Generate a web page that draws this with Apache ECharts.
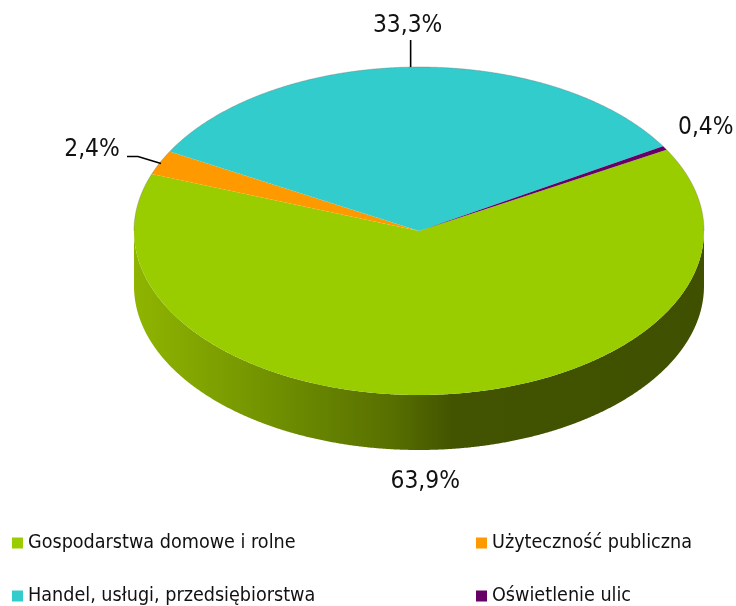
<!DOCTYPE html>
<html><head><meta charset="utf-8">
<style>html,body{margin:0;padding:0;background:#fff}#c{width:736px;height:606px}</style>
<script src="https://cdn.jsdelivr.net/npm/echarts@6/dist/echarts.min.js"></script>
</head><body><div id="c"></div>
<script>
const categories = ['Gospodarstwa domowe i rolne','Użyteczność publiczna','Handel, usługi, przedsiębiorstwa','Oświetlenie ulic'];
const shares = [63.9, 2.4, 33.3, 0.4];
const colors = ['#9ACD00','#FF9900','#33CCCC','#660066'];
const legendPos = [[12,533],[476,533],[12,586],[476,586]];
// label offset from the slice's rim midpoint, and leader line points relative to the same point
const labelOffset = [[-17,87],[-68,-13],[-6,-41],[41,-20]];
const leaders = [null,[[1,1],[-22,-6],[-33,-6]],[[-3,0],[-3,-27]],null];

const cx=419, cy=231, rx=285, ry=164, depth=55, startDeg=29.7;
const font='"DejaVu Sans Condensed","DejaVu Sans",sans-serif';
const total=shares.reduce((a,b)=>a+b,0);
function pt(deg,dy){const r=deg*Math.PI/180;return [cx+rx*Math.cos(r),cy-ry*Math.sin(r)+(dy||0)];}
function range(i){let a=startDeg;for(let k=0;k<i;k++)a-=shares[k]/total*360;return [a,a-shares[i]/total*360];}
function arc(a,b,dy){const n=Math.max(2,Math.ceil(Math.abs(a-b)*4)),p=[];for(let k=0;k<=n;k++)p.push(pt(a+(b-a)*k/n,dy));return p;}

function render(i){return function(params,api){
  const v=api.value(0);const [a,b]=range(i);const kids=[];
  // visible wall: the part of the slice's arc below the horizontal diameter
  const fa=Math.min(a,0), fb=Math.max(b,-180);
  if(fa>fb){
    const top=arc(fa,fb,0),bot=arc(fb,fa,depth);
    kids.push({type:'polygon',shape:{points:top.concat(bot)},style:{fill:new echarts.graphic.LinearGradient(0,0,1,0,[
      {offset:0,color:'#8FB500'},{offset:0.15,color:'#7D9F00'},{offset:0.27,color:'#6D8C00'},
      {offset:0.45,color:'#587000'},{offset:0.56,color:'#425400'},{offset:1,color:'#3F5000'}]),stroke:null}});
  }
  kids.push({type:'polygon',shape:{points:[[cx,cy]].concat(arc(a,b,0))},style:{fill:colors[i],stroke:null}});
  // faint grey rim along the back edge
  const rim=(from,to)=>{ if(from>to) kids.push({type:'polyline',shape:{points:arc(from,to,0)},style:{stroke:'rgba(110,110,110,0.35)',lineWidth:1,fill:null}}); };
  rim(Math.min(a,180),Math.max(b,0));
  rim(Math.min(a,-180),Math.max(b,-360));
  const mid=(a+b)/2,m=pt(mid);
  if(leaders[i]){
    kids.push({type:'polyline',shape:{points:leaders[i].map(o=>[m[0]+o[0],m[1]+o[1]])},style:{stroke:'#000',lineWidth:1.6,fill:null}});
  }
  kids.push({type:'text',style:{x:m[0]+labelOffset[i][0],y:m[1]+labelOffset[i][1],text:v.toFixed(1).replace('.',',')+'%',
    fill:'#111',font:'24.3px '+font,align:'center',verticalAlign:'middle'}});
  return {type:'group',children:kids};
};}

const chart=echarts.init(document.getElementById('c'),null,{renderer:'canvas'});
chart.setOption({animation:false,backgroundColor:'#fff',
  legend:categories.map((c,i)=>({data:[c],left:legendPos[i][0],top:legendPos[i][1],padding:0,icon:'rect',itemWidth:11,itemHeight:11,selectedMode:false,
    textStyle:{fontFamily:font,fontSize:19.6,color:'#111'}})),
  series:categories.map((c,i)=>({type:'custom',name:c,coordinateSystem:'none',data:[[shares[i]]],itemStyle:{color:colors[i]},renderItem:render(i),silent:true}))
});
</script></body></html>
